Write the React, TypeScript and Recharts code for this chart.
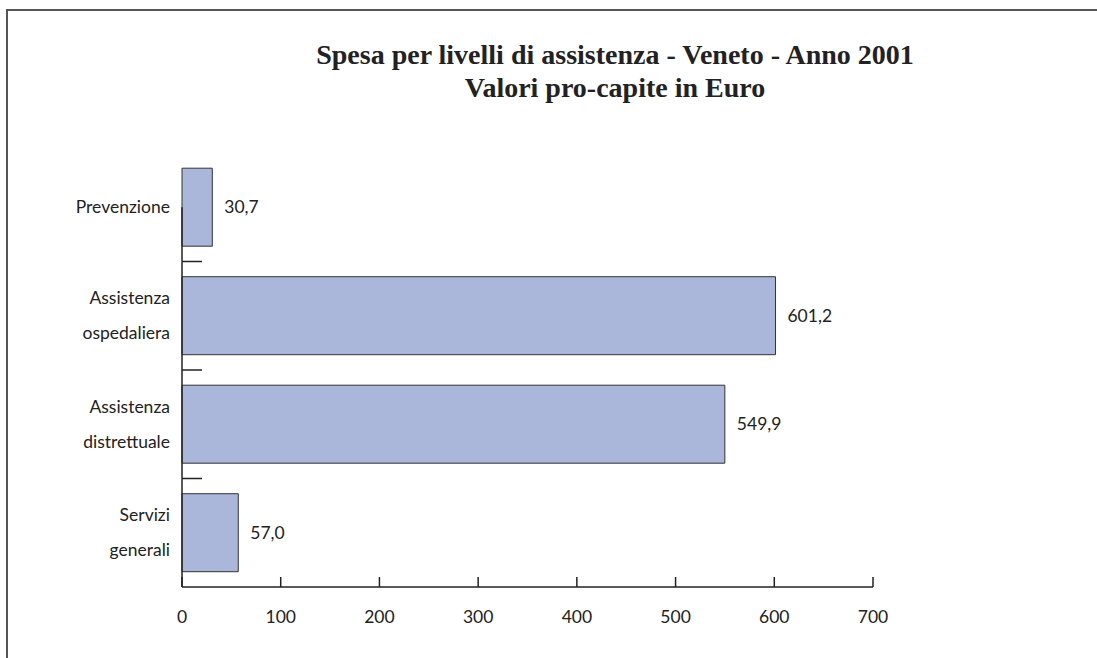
import React from 'react';
import { BarChart, Bar, XAxis, YAxis, LabelList } from 'recharts';

const categories = ['Prevenzione', 'Assistenza ospedaliera', 'Assistenza distrettuale', 'Servizi generali'];
const values = [30.7, 601.2, 549.9, 57.0];
const xTicks = [0, 100, 200, 300, 400, 500, 600, 700];
const titleLines = ['Spesa per livelli di assistenza - Veneto - Anno 2001', 'Valori pro-capite in Euro'];

const data = categories.map((c, i) => ({ name: c, value: values[i] }));

const FONT = 'Lato, "Open Sans", sans-serif';
const INK = '#222';
const FS = 17.5;

const YTick = (props: any) => {
  const { x, y, payload, index } = props;
  const half = payload && payload.offset ? payload.offset : 54;
  const words = String(payload.value).split(' ');
  const lineGap = 35;
  const start = -((words.length - 1) * lineGap) / 2;
  const ax = x + 12;
  return (
    <g>
      <line x1={ax} x2={ax} y1={index === 0 ? y : y - half} y2={y + half} stroke={INK} strokeWidth={1.5} />
      <text x={x} y={y} textAnchor="end" fontFamily={FONT} fontSize={FS} fill={INK}>
        {words.map((w, i) => (
          <tspan key={i} x={x} y={y + start + i * lineGap} dy="0.35em">{w}</tspan>
        ))}
      </text>
      {index < categories.length - 1 && (
        <line x1={ax} x2={ax + 20} y1={y + half} y2={y + half} stroke={INK} strokeWidth={1.5} />
      )}
    </g>
  );
};

const XTick = (props: any) => {
  const { x, y, payload } = props;
  return (
    <g>
      <line x1={x} x2={x} y1={y} y2={y - 10} stroke={INK} strokeWidth={1.5} />
      <text x={x} y={y + 30} textAnchor="middle" dy="0.35em" fontFamily={FONT} fontSize={FS} fill={INK}>
        {payload.value}
      </text>
    </g>
  );
};

const fmt = (v: any) => Number(v).toFixed(1).replace('.', ',');

export default function App() {
  return (
    <div style={{ position: 'fixed', left: 0, top: 0, width: 1097, height: 658, overflow: 'hidden', background: '#fff' }}>
      <div style={{ position: 'absolute', left: 6, top: 9, width: 1200, height: 800, borderTop: '2px solid #555', borderLeft: '2px solid #555' }} />
      <div style={{ position: 'absolute', left: 0, top: 38, width: 1230, textAlign: 'center', fontFamily: '"Liberation Serif", "Times New Roman", serif', fontWeight: 'bold', fontSize: 28, lineHeight: '33px', color: INK }}>
        {titleLines.map((t, i) => (<div key={i}>{t}</div>))}
      </div>
      <div style={{ position: 'absolute', left: 0, top: 0 }}>
        <BarChart
          width={1097}
          height={658}
          data={data}
          layout="vertical"
          margin={{ top: 153, right: 224, bottom: 0, left: 0 }}
          barCategoryGap="14%"
        >
          <XAxis
            type="number"
            domain={[0, 700]}
            ticks={xTicks}
            interval={0}
            height={71}
            tickSize={0}
            tickMargin={0}
            tickLine={false}
            axisLine={{ stroke: INK, strokeWidth: 1.5 }}
            tick={<XTick />}
          />
          <YAxis
            type="category"
            dataKey="name"
            width={182}
            interval={0}
            tickSize={0}
            tickMargin={12}
            tickLine={false}
            axisLine={false}
            tick={<YTick />}
          />
          <Bar dataKey="value" fill="#aab6da" stroke="#333" strokeWidth={1} isAnimationActive={false}>
            <LabelList dataKey="value" position="right" offset={12} formatter={fmt} fontFamily={FONT} fontSize={FS} fill={INK} />
          </Bar>
        </BarChart>
      </div>
    </div>
  );
}
